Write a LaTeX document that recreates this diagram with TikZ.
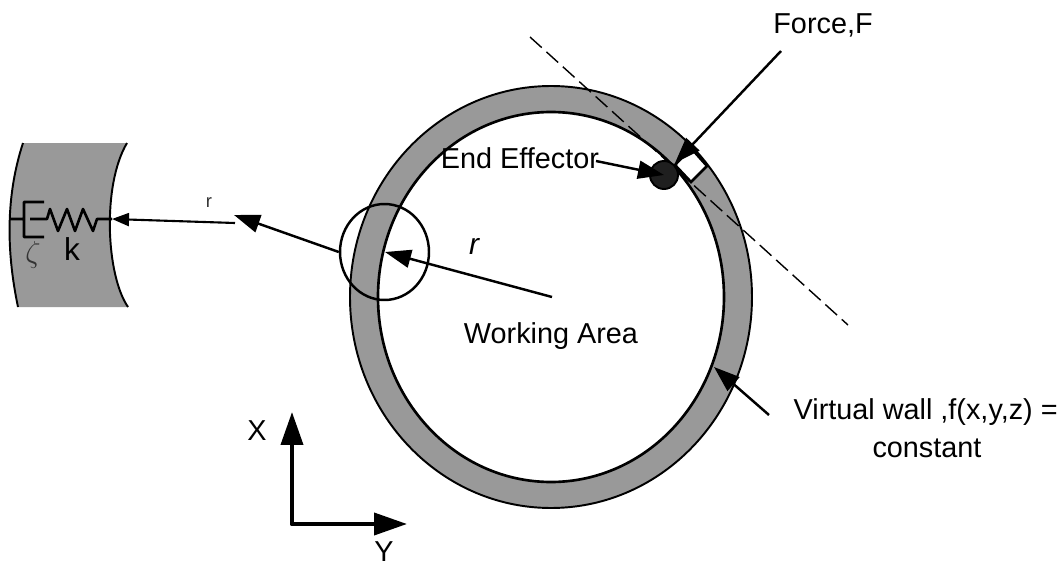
\documentclass[tikz,border=0pt]{standalone}
\usepackage{fontspec}
\setmainfont{Liberation Sans}
\usepackage{amsmath}
\usetikzlibrary{arrows.meta,positioning,calc,shapes.geometric}
\definecolor{wallgray}{RGB}{153,153,153}
\tikzset{
  lab/.style ={inner sep=0pt,font=\fontsize{16.4}{19}\selectfont},
  wall/.style={draw,line width=1.1pt,fill=wallgray},
  free/.style={draw,line width=1.5pt,fill=white},
  eff/.style ={circle,draw,line width=1.1pt,fill=black!88,minimum size=5.6mm,inner sep=0pt},
  lens/.style={ellipse,draw,line width=1.4pt,minimum width=1.78cm,minimum height=1.92cm,inner sep=0pt},
  ar/.style  ={-{Triangle[length=5.2mm,width=3.6mm]},line width=1.4pt},
  axs/.style ={-{Triangle[length=6.6mm,width=4.4mm]},line width=2.2pt,line cap=round},
}
\begin{document}
\begin{tikzpicture}[x=0.02cm,y=-0.02cm]
  \useasboundingbox (0,0) rectangle (1063,568);
  % the wall and the working area
  \draw[wall] (551,297) ellipse [x radius=201,y radius=211];
  \draw[free] (551,297) ellipse [x radius=173,y radius=185];
  \draw[dash pattern=on 9pt off 3.6pt,line width=0.8pt] (530,37) -- (848,325);
  \draw[free] (675,165) -- (691,182) -- (707,166) -- (691,148) -- cycle; % contact patch
  % enlarged piece of the wall
  \fill[wallgray] (23,143) .. controls (6,195) and (6,250) .. (18,307) -- (128,307)
    .. controls (106,275) and (102,185) .. (127,143) -- cycle;
  \draw[line width=1.1pt] (23,143) .. controls (6,195) and (6,250) .. (18,307);
  \draw[line width=1.1pt] (127,143) .. controls (102,185) and (106,275) .. (128,307);
  \draw[line width=1.5pt,line join=round] (10,219) -- (24,219) (44,202) -- (24,202) -- (24,237) -- (44,237)
    (30,219) -- (47,219) -- (50,209) -- (58,231) -- (67,209) -- (75,231) -- (83,209) -- (93,231) -- (97,219) -- (112,219);
  \node[lab,font=\fontsize{17}{19}\selectfont,black!80] (zeta) at (33,255){$\zeta$};
  \node[lab,font=\fontsize{18}{20}\selectfont] (k) at (72,249){k};
  \node[lab,font=\fontsize{10.5}{12}\selectfont,black!80] (rsmall) at (209,203){r};
  \coordinate (rtail) at (235,223);
  \coordinate (rtip) at (112,219);
  \draw[-{Triangle[length=3.4mm,width=2.6mm]},line width=1.2pt] (rtail) -- (rtip);
  % radius arrows
  \node[lens] (zoomc) at (384.5,252){};
  \coordinate (cen) at (552,297);
  \coordinate (ontip) at (385,252);
  \coordinate (outb) at (234,215);
  \draw[ar] (cen) -- (ontip);
  \draw[ar] (zoomc.west) -- (outb);
  \node[lab,font=\fontsize{17}{19}\selectfont\itshape] (r) at (474,246){r};
  \node[lab] (area) at (551,336){Working Area};
  % end effector and force
  \node[eff] (ball) at (664,175){};
  \node[lab] (efftxt) at (520,158){End Effector};
  \coordinate (efftail) at (596,161);
  \draw[ar] (efftail) -- (ball.center);
  \node[lab] (force) at (823,25){Force,F};
  \coordinate (ftail) at (781,51);
  \coordinate (ftip) at (675,163);
  \draw[ar] (ftail) -- (ftip);
  % virtual wall label
  \node[lab,anchor=east] (vw) at (1058,412){Virtual wall ,f(x,y,z) =};
  \node[lab] (const) at (927,448){constant};
  \coordinate (vtail) at (769,415);
  \coordinate (vtip) at (714,367);
  \draw[ar] (vtail) -- (vtip);
  % axes
  \coordinate (org) at (292,524);
  \coordinate (xend) at (292,412);
  \coordinate (yend) at (407,524);
  \draw[axs] (org) -- (xend);
  \draw[axs] (org) -- (yend);
  \node[lab] (xl) at (257,431){X};
  \node[lab] (yl) at (384,552){Y};
\end{tikzpicture}
\end{document}
